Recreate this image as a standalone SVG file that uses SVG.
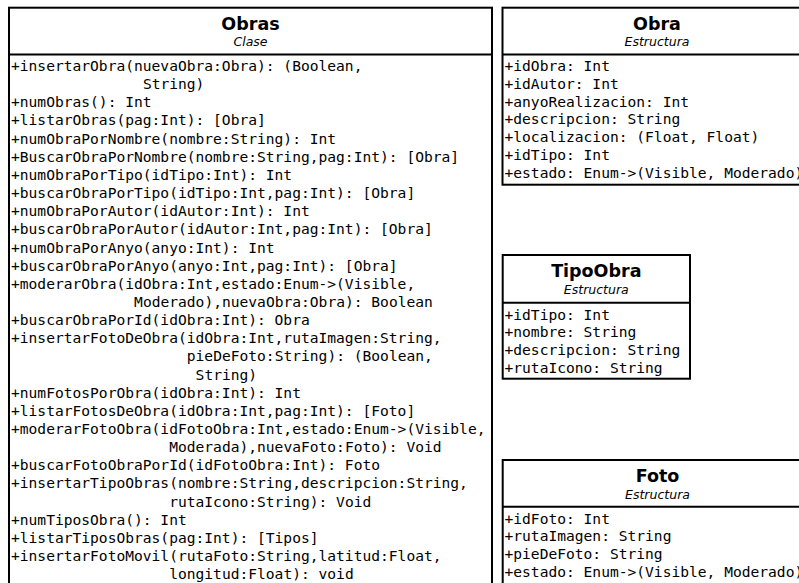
<svg xmlns="http://www.w3.org/2000/svg" width="799" height="583" viewBox="0 0 799 583">
  <style>
    .box { fill: #ffffff; stroke: #000000; stroke-width: 2; }
    .sep { stroke: #000000; stroke-width: 2; }
    .title { font-family: "DejaVu Sans", "Liberation Sans", sans-serif; font-weight: bold; font-size: 17.5px; fill: #000000; text-anchor: middle; }
    .kind { font-family: "DejaVu Sans", "Liberation Sans", sans-serif; font-style: italic; font-size: 12.5px; fill: #000000; text-anchor: middle; }
    .mem { font-family: "DejaVu Sans Mono", "Liberation Mono", monospace; font-size: 14.6px; fill: #000000; white-space: pre; }
  </style>
  <rect x="0" y="0" width="799" height="583" fill="#ffffff"/>

  <!-- Class: Obras -->
  <g id="obras">
    <rect class="box" x="9" y="7.7" width="483" height="600"/>
    <line class="sep" x1="9" y1="54.5" x2="492" y2="54.5"/>
    <text class="title" x="250.5" y="30">Obras</text>
    <text class="kind" x="250.5" y="46">Clase</text>
    <text class="mem">
      <tspan x="11" y="71">+insertarObra(nuevaObra:Obra): (Boolean,</tspan>
      <tspan x="142.9" y="89.15">String)</tspan>
      <tspan x="11" y="107.3">+numObras(): Int</tspan>
      <tspan x="11" y="125.45">+listarObras(pag:Int): [Obra]</tspan>
      <tspan x="11" y="143.6">+numObraPorNombre(nombre:String): Int</tspan>
      <tspan x="11" y="161.75">+BuscarObraPorNombre(nombre:String,pag:Int): [Obra]</tspan>
      <tspan x="11" y="179.9">+numObraPorTipo(idTipo:Int): Int</tspan>
      <tspan x="11" y="198.05">+buscarObraPorTipo(idTipo:Int,pag:Int): [Obra]</tspan>
      <tspan x="11" y="216.2">+numObraPorAutor(idAutor:Int): Int</tspan>
      <tspan x="11" y="234.35">+buscarObraPorAutor(idAutor:Int,pag:Int): [Obra]</tspan>
      <tspan x="11" y="252.5">+numObraPorAnyo(anyo:Int): Int</tspan>
      <tspan x="11" y="270.65">+buscarObraPorAnyo(anyo:Int,pag:Int): [Obra]</tspan>
      <tspan x="11" y="288.8">+moderarObra(idObra:Int,estado:Enum-&gt;(Visible,</tspan>
      <tspan x="134.1" y="306.95">Moderado),nuevaObra:Obra): Boolean</tspan>
      <tspan x="11" y="325.1">+buscarObraPorId(idObra:Int): Obra</tspan>
      <tspan x="11" y="343.25">+insertarFotoDeObra(idObra:Int,rutaImagen:String,</tspan>
      <tspan x="186.8" y="361.4">pieDeFoto:String): (Boolean,</tspan>
      <tspan x="195.6" y="379.55">String)</tspan>
      <tspan x="11" y="397.7">+numFotosPorObra(idObra:Int): Int</tspan>
      <tspan x="11" y="415.85">+listarFotosDeObra(idObra:Int,pag:Int): [Foto]</tspan>
      <tspan x="11" y="434">+moderarFotoObra(idFotoObra:Int,estado:Enum-&gt;(Visible,</tspan>
      <tspan x="169.2" y="452.15">Moderada),nuevaFoto:Foto): Void</tspan>
      <tspan x="11" y="470.3">+buscarFotoObraPorId(idFotoObra:Int): Foto</tspan>
      <tspan x="11" y="488.45">+insertarTipoObras(nombre:String,descripcion:String,</tspan>
      <tspan x="169.2" y="506.6">rutaIcono:String): Void</tspan>
      <tspan x="11" y="524.75">+numTiposObra(): Int</tspan>
      <tspan x="11" y="542.9">+listarTiposObras(pag:Int): [Tipos]</tspan>
      <tspan x="11" y="561.05">+insertarFotoMovil(rutaFoto:String,latitud:Float,</tspan>
      <tspan x="169.2" y="579.2">longitud:Float): void</tspan>
    </text>
  </g>

  <!-- Structure: Obra -->
  <g id="obra">
    <rect class="box" x="502.5" y="7.7" width="309" height="177"/>
    <line class="sep" x1="502.5" y1="54.5" x2="811.5" y2="54.5"/>
    <text class="title" x="657" y="30">Obra</text>
    <text class="kind" x="657" y="46">Estructura</text>
    <text class="mem">
      <tspan x="504.5" y="71">+idObra: Int</tspan>
      <tspan x="504.5" y="88.8">+idAutor: Int</tspan>
      <tspan x="504.5" y="106.6">+anyoRealizacion: Int</tspan>
      <tspan x="504.5" y="124.4">+descripcion: String</tspan>
      <tspan x="504.5" y="142.2">+localizacion: (Float, Float)</tspan>
      <tspan x="504.5" y="160">+idTipo: Int</tspan>
      <tspan x="504.5" y="177.8">+estado: Enum-&gt;(Visible, Moderado)</tspan>
    </text>
  </g>

  <!-- Structure: TipoObra -->
  <g id="tipoobra">
    <rect class="box" x="502.7" y="255" width="187.3" height="123.7"/>
    <line class="sep" x1="502.7" y1="302.7" x2="690" y2="302.7"/>
    <text class="title" x="596.3" y="276.8">TipoObra</text>
    <text class="kind" x="596.3" y="293.5">Estructura</text>
    <text class="mem">
      <tspan x="504.5" y="319.5">+idTipo: Int</tspan>
      <tspan x="504.5" y="337.3">+nombre: String</tspan>
      <tspan x="504.5" y="355.1">+descripcion: String</tspan>
      <tspan x="504.5" y="372.9">+rutaIcono: String</tspan>
    </text>
  </g>

  <!-- Structure: Foto -->
  <g id="foto">
    <rect class="box" x="502.7" y="460" width="309" height="140"/>
    <line class="sep" x1="502.7" y1="506.7" x2="811.7" y2="506.7"/>
    <text class="title" x="657.5" y="481.8">Foto</text>
    <text class="kind" x="657.5" y="498.5">Estructura</text>
    <text class="mem">
      <tspan x="504.5" y="523.5">+idFoto: Int</tspan>
      <tspan x="504.5" y="541.3">+rutaImagen: String</tspan>
      <tspan x="504.5" y="559.1">+pieDeFoto: String</tspan>
      <tspan x="504.5" y="576.9">+estado: Enum-&gt;(Visible, Moderado)</tspan>
    </text>
  </g>

  <!-- No associations are drawn between these types -->
  <g id="connectors"/>
</svg>
